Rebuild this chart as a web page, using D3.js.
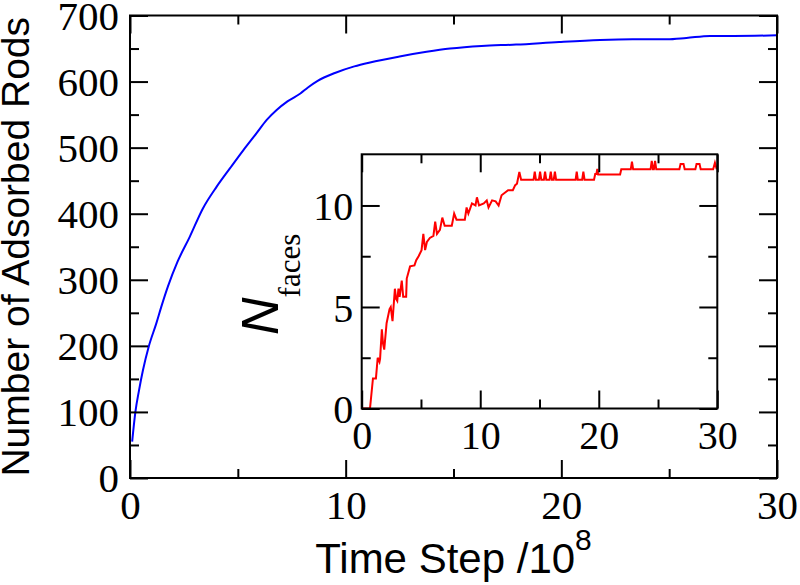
<!DOCTYPE html>
<html>
<head>
<meta charset="utf-8">
<script src="https://cdn.jsdelivr.net/npm/d3@7"></script>
<style>
  html, body { margin: 0; padding: 0; background: #fff; }
  svg { display: block; }
  .ticklab { font-family: "Liberation Serif", "Times New Roman", serif !important; }
</style>
</head>
<body>
<svg id="chart" width="800" height="585"></svg>
<script>
// ---------- data ----------
const blueT = [0.1, 0.25, 0.42, 0.6, 0.87, 1.22, 1.45, 1.76, 2.2, 2.77, 3.38, 4.02, 4.64, 5.25, 5.87, 6.34, 6.8, 7.3, 7.9, 8.25, 8.7, 9.5, 10.4, 11.13, 12.5, 13.75, 14.84, 16.3, 17.9, 19.9, 21.8, 23.3, 24.9, 25.8, 26.9, 28.0, 30.0];
const blueN = [55, 100, 133, 163, 199, 234, 259, 290, 327, 365, 408, 441, 469, 496, 522, 542, 557, 570, 582, 591, 601, 613, 623, 629, 638, 645, 650, 654, 656, 660, 663, 664, 664, 666, 669, 669, 670];

const redT = [0, 0.7, 0.95, 1.2, 1.35, 1.5, 1.55, 1.7, 1.8, 1.9, 2.1, 2.35, 2.45, 2.6, 2.8, 2.9, 3.0, 3.1, 3.2, 3.38, 3.5, 3.75, 3.8, 4.08, 4.45, 4.6, 4.8, 5.05, 5.2, 5.35, 5.5, 5.75, 6.05, 6.2, 6.35, 6.6, 6.8, 7.0, 7.6, 7.8, 8.0, 8.7, 8.85, 9.0, 9.3, 9.6, 9.72, 9.9, 10.3, 10.55, 10.7, 11.0, 11.3, 11.55, 11.8, 12.35, 12.75, 12.95, 13.1, 13.3, 13.45,
  14.5, 14.6, 14.7, 14.95, 15.05, 15.15, 15.37, 15.47, 15.57, 15.85, 15.95, 16.05, 16.2, 16.3, 16.4, 18.05, 18.14, 18.23, 18.6, 18.7, 18.8, 19.6, 19.7, 19.8, 19.88, 19.95, 21.8, 21.9, 22.7, 22.8, 22.9, 24.37, 24.47, 24.57, 24.65, 24.75, 24.85, 26.8, 26.9, 27.15, 27.25, 28.15, 28.25, 28.5, 28.6, 29.65, 29.8, 29.95];
const redN = [0, 0, 1.48, 1.48, 2.5, 2.3, 2.45, 3.9, 3.2, 2.9, 4.2, 4.9, 5.0, 4.3, 5.9, 5.4, 5.3, 5.9, 5.5, 6.3, 5.5, 5.5, 6.4, 7.0, 7.05, 7.3, 7.5, 7.8, 8.6, 7.8, 8.2, 8.4, 8.5, 9.2, 8.6, 8.8, 9.4, 9.0, 9.0, 9.6, 9.3, 9.3, 9.9, 9.6, 10.1, 10.0, 10.4, 10.0, 10.1, 10.25, 9.9, 10.25, 10.2, 10.0, 10.5, 10.75, 10.75, 11.0, 11.07, 11.65, 11.27,
  11.27, 11.67, 11.27, 11.27, 11.67, 11.27, 11.27, 11.67, 11.27, 11.27, 11.67, 11.27, 11.27, 11.67, 11.27, 11.27, 11.67, 11.27, 11.27, 11.67, 11.27, 11.27, 11.55, 11.55, 11.8, 11.53, 11.53, 11.78, 11.78, 12.16, 11.78, 11.78, 12.2, 11.78, 11.78, 12.2, 11.78, 11.78, 12.04, 12.04, 11.78, 11.78, 12.04, 12.04, 11.78, 11.78, 12.1, 11.78];

const mainXTicks = [0, 10, 20, 30];
const mainXMinor = [5, 15, 25];
const mainYTicks = [0, 100, 200, 300, 400, 500, 600, 700];
const mainYMinor = [50, 150, 250, 350, 450, 550, 650];
const insetXTicks = [0, 10, 20, 30];
const insetXMinor = [5, 15, 25];
const insetYTicks = [0, 5, 10];
const insetYMinor = [2.5, 7.5];

const xTitle = "Time Step /10";
const xTitleSup = "8";
const yTitle = "Number of Adsorbed Rods";
const insetYTitle = "N";
const insetYTitleSub = "faces";

// ---------- layout ----------
const svg = d3.select("#chart");
const M = { left: 130, right: 777, top: 15.5, bottom: 478 };
const I = { left: 361.7, right: 717.3, top: 154.3, bottom: 408.5 };
const serif = "Liberation Serif";
const sans = "Liberation Sans";
const MAJ = 18, MIN = 9;

function drawFrame(g, B, xs, ys, xMaj, xMin, yMaj, yMin, fs, xLabY, yLabX, yLabDy) {
  const bMaj = g.append("g").attr("transform", `translate(0,${B.bottom})`)
    .call(d3.axisBottom(xs).tickValues(xMaj).tickSizeInner(-MAJ).tickSizeOuter(0));
  bMaj.attr("font-family", serif).attr("font-size", fs);
  bMaj.selectAll("text").attr("class", "ticklab").attr("y", xLabY).attr("dy", null)
    .attr("font-family", serif).attr("font-size", fs).attr("fill", "#000");
  g.append("g").attr("transform", `translate(0,${B.bottom})`)
    .call(d3.axisBottom(xs).tickValues(xMin).tickSizeInner(-MIN).tickSizeOuter(0).tickFormat(""));
  g.append("g").attr("transform", `translate(0,${B.top})`)
    .call(d3.axisTop(xs).tickValues(xMaj).tickSizeInner(-MAJ).tickSizeOuter(0).tickFormat(""));
  g.append("g").attr("transform", `translate(0,${B.top})`)
    .call(d3.axisTop(xs).tickValues(xMin).tickSizeInner(-MIN).tickSizeOuter(0).tickFormat(""));
  const lMaj = g.append("g").attr("transform", `translate(${B.left},0)`)
    .call(d3.axisLeft(ys).tickValues(yMaj).tickSizeInner(-MAJ).tickSizeOuter(0));
  lMaj.attr("font-family", serif).attr("font-size", fs);
  lMaj.selectAll("text").attr("class", "ticklab").attr("x", yLabX).attr("dy", yLabDy)
    .attr("font-family", serif).attr("font-size", fs).attr("fill", "#000");
  g.append("g").attr("transform", `translate(${B.left},0)`)
    .call(d3.axisLeft(ys).tickValues(yMin).tickSizeInner(-MIN).tickSizeOuter(0).tickFormat(""));
  g.append("g").attr("transform", `translate(${B.right},0)`)
    .call(d3.axisRight(ys).tickValues(yMaj).tickSizeInner(-MAJ).tickSizeOuter(0).tickFormat(""));
  g.append("g").attr("transform", `translate(${B.right},0)`)
    .call(d3.axisRight(ys).tickValues(yMin).tickSizeInner(-MIN).tickSizeOuter(0).tickFormat(""));
  g.selectAll(".domain").remove();
  g.selectAll(".tick line").attr("stroke", "#000").attr("stroke-width", 2);
  g.append("rect")
    .attr("x", B.left).attr("y", B.top)
    .attr("width", B.right - B.left).attr("height", B.bottom - B.top)
    .attr("fill", "none").attr("stroke", "#000").attr("stroke-width", 2);
}

// ---------- main plot ----------
const x = d3.scaleLinear().domain([0, 30]).range([M.left, M.right]);
const y = d3.scaleLinear().domain([0, 700]).range([M.bottom, M.top]);

const gMain = svg.append("g");
gMain.append("path")
  .datum(blueT.map((t, i) => [t, blueN[i]]))
  .attr("fill", "none").attr("stroke", "#0000ff").attr("stroke-width", 2)
  .attr("stroke-linejoin", "round")
  .attr("d", d3.line().curve(d3.curveMonotoneX).x(d => x(d[0])).y(d => y(d[1])));
drawFrame(gMain, M, x, y, mainXTicks, mainXMinor, mainYTicks, mainYMinor, 41, 40.5, -11, "0.34em");

const xt = svg.append("text")
  .attr("x", (M.left + M.right) / 2).attr("y", 573)
  .attr("text-anchor", "middle")
  .attr("font-family", sans).attr("font-size", 42).attr("fill", "#000");
xt.append("tspan").text(xTitle);
xt.append("tspan").attr("dy", -23).attr("font-size", 30).text(xTitleSup);

svg.append("text")
  .attr("transform", "rotate(-90)")
  .attr("x", -(M.top + M.bottom) / 2).attr("y", 29)
  .attr("text-anchor", "middle")
  .attr("font-family", sans).attr("font-size", 39).attr("fill", "#000")
  .text(yTitle);

// ---------- inset ----------
const xi = d3.scaleLinear().domain([0, 30]).range([I.left, I.right]);
const yi = d3.scaleLinear().domain([0, 12.52]).range([I.bottom, I.top]);

const gIn = svg.append("g");
gIn.append("rect")
  .attr("x", I.left).attr("y", I.top)
  .attr("width", I.right - I.left).attr("height", I.bottom - I.top)
  .attr("fill", "#fff");
gIn.append("path")
  .datum(redT.map((t, i) => [t, redN[i]]))
  .attr("fill", "none").attr("stroke", "#ff0000").attr("stroke-width", 2)
  .attr("stroke-linejoin", "miter")
  .attr("d", d3.line().x(d => xi(d[0])).y(d => yi(d[1])));
drawFrame(gIn, I, xi, yi, insetXTicks, insetXMinor, insetYTicks, insetYMinor, 40, 40, -8.5, "0.36em");

const it = svg.append("text")
  .attr("transform", "rotate(-90)")
  .attr("x", -335).attr("y", 278)
  .attr("text-anchor", "start")
  .attr("fill", "#000");
it.append("tspan").attr("font-family", sans).attr("font-style", "italic").attr("font-size", 52).text(insetYTitle);
it.append("tspan").attr("dy", 22).attr("font-family", serif).attr("font-size", 31).text(insetYTitleSub);
</script>
</body>
</html>
